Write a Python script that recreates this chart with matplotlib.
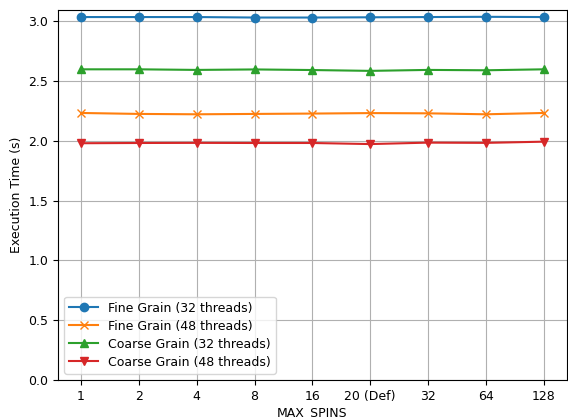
import matplotlib
matplotlib.use("Agg")
import matplotlib.pyplot as plt

categories = ["1", "2", "4", "8", "16", "20 (Def)", "32", "64", "128"]
fine32 = [3.035, 3.035, 3.035, 3.031, 3.031, 3.033, 3.035, 3.037, 3.035]
fine48 = [2.233, 2.225, 2.222, 2.225, 2.228, 2.232, 2.230, 2.222, 2.233]
coarse32 = [2.598, 2.598, 2.593, 2.597, 2.592, 2.585, 2.593, 2.590, 2.598]
coarse48 = [1.980, 1.982, 1.983, 1.982, 1.982, 1.973, 1.985, 1.983, 1.993]

fig = plt.figure(figsize=(5.68, 4.19), dpi=100)
ax = fig.add_axes([0.102, 0.093, 0.896, 0.882])
x = range(len(categories))
ax.plot(x, fine32, marker="o", color="#1f77b4", label="Fine Grain (32 threads)")
ax.plot(x, fine48, marker="x", color="#ff7f0e", label="Fine Grain (48 threads)")
ax.plot(x, coarse32, marker="^", color="#2ca02c", label="Coarse Grain (32 threads)")
ax.plot(x, coarse48, marker="v", color="#d62728", label="Coarse Grain (48 threads)")
ax.set_xticks(list(x))
ax.set_xticklabels(categories)
ax.set_ylim(0, 3.09)
ax.set_xlabel("MAX_SPINS", fontsize=9, labelpad=2)
ax.set_ylabel("Execution Time (s)", fontsize=9)
ax.tick_params(labelsize=9)
ax.grid(True)
ax.legend(loc="lower left", fontsize=9, handlelength=2.3, labelspacing=0.4)
fig.savefig("out.png", dpi=100)
